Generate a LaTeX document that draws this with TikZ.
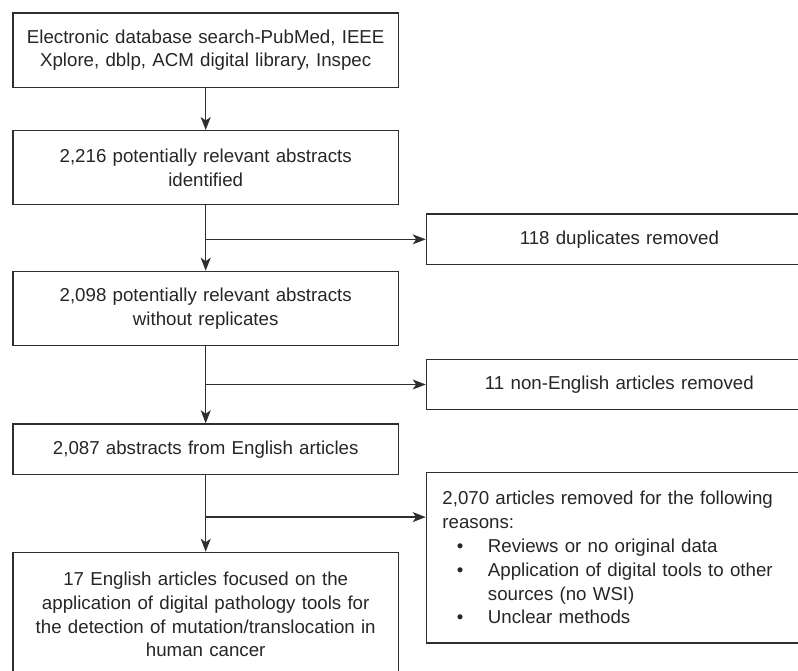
\documentclass[tikz,border=0pt]{standalone}
\usepackage{fontspec}
\setmainfont{Liberation Sans}
\usetikzlibrary{arrows.meta,calc}
\definecolor{ink}{HTML}{262626}
\definecolor{edge}{HTML}{2E2E2E}
\tikzset{
  box/.style={draw=edge, line width=1.4pt, anchor=north west, inner sep=0pt, align=center, text=ink,
    font=\fontsize{18.7}{23.8}\selectfont},
  arr/.style={draw=edge, line width=1.4pt, -{Stealth[length=13pt,width=10pt,inset=3.5pt]}}
}
\begin{document}
\begin{tikzpicture}[x=1pt,y=-1pt]
\useasboundingbox (0,0) rectangle (798,671);
\clip (0,0) rectangle (798,671);
\node[box, minimum width=385.4pt, minimum height=74.4pt, text width=370pt] (b1) at (12.3,12.3)
  {Electronic database search-PubMed, IEEE\\Xplore, dblp, ACM digital library, Inspec};
\node[box, minimum width=385.4pt, minimum height=74pt, text width=370pt] (b2) at (12.3,130)
  {2,216 potentially relevant abstracts\\identified};
\node[box, minimum width=385.4pt, minimum height=74.3pt, text width=370pt] (b3) at (12.3,270.7)
  {2,098 potentially relevant abstracts\\without replicates};
\node[box, minimum width=385.4pt, minimum height=50.7pt, text width=370pt] (b4) at (12.3,423.3)
  {2,087 abstracts from English articles};
\node[box, minimum width=385.4pt, minimum height=124.3pt, text width=370pt] (b5) at (12.3,551.7)
  {17 English articles focused on the\\application of digital pathology tools for\\the detection of mutation/translocation in\\human cancer};
\node[box, minimum width=386pt, minimum height=50.7pt, text width=370pt] (r1) at (425.7,213.3)
  {118 duplicates removed};
\node[box, minimum width=386pt, minimum height=49.6pt, text width=370pt] (r2) at (425.7,359)
  {11 non-English articles removed};
\node[box, minimum width=386pt, minimum height=170.6pt, text width=354pt, align=left, inner xsep=16pt] (r3) at (425.7,471.7)
  {2,070 articles removed for the following\\reasons:\\
   \hspace*{14.5pt}\makebox[31pt][l]{•}Reviews or no original data\\
   \hspace*{14.5pt}\makebox[31pt][l]{•}Application of digital tools to other\\
   \hspace*{45.5pt}sources (no WSI)\\
   \hspace*{14.5pt}\makebox[31pt][l]{•}Unclear methods};
\coordinate (j1) at (b2.south |- r1.west);
\coordinate (j2) at (b3.south |- r2.west);
\coordinate (j3) at ($(b4.south)+(0,41.7)$);
\draw[arr] (b1.south) -- (b2.north);
\draw[arr] (b2.south) -- (b3.north);
\draw[arr] (b3.south) -- (b4.north);
\draw[arr] (b4.south) -- (b5.north);
\draw[arr] (j1) -- (r1.west);
\draw[arr] (j2) -- (r2.west);
\draw[arr] (j3) -- (r3.west |- j3);
\end{tikzpicture}
\end{document}
